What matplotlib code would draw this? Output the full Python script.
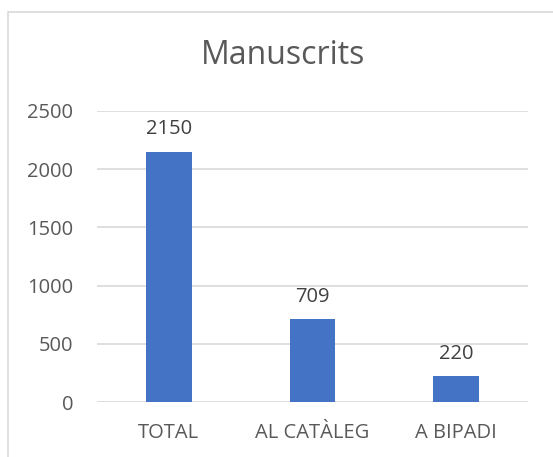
import matplotlib
matplotlib.use("Agg")
import matplotlib.pyplot as plt
from matplotlib.patches import Rectangle

categories = ["TOTAL", "AL CATÀLEG", "A BIPADI"]
values = [2150, 709, 220]
yticks = [0, 500, 1000, 1500, 2000, 2500]

text_color = "#595959"
label_color = "#404040"
bar_color = "#4472c4"
grid_color = "#d9d9d9"

plt.rcParams['font.family'] = ['Open Sans', 'DejaVu Sans']

fig = plt.figure(figsize=(5.53, 4.57), dpi=100)
# chart border (cut off at right and bottom in the original)
fig.patches.append(Rectangle((8 / 553, -0.1), 1.2, 1 - 12 / 457 + 0.1,
                             transform=fig.transFigure, fill=False,
                             edgecolor=grid_color, linewidth=1.2))

ax = fig.add_axes([97 / 553, 1 - 402 / 457, 431 / 553, 291 / 457])
x = range(len(categories))
bars = ax.bar(x, values, width=0.32, color=bar_color, zorder=3)
for b, v in zip(bars, values):
    ax.annotate(str(v), (b.get_x() + b.get_width() / 2, v),
                xytext=(0, 9), textcoords="offset points",
                ha="center", va="bottom", fontsize=14.5, color=label_color)

ax.set_xlim(-0.5, len(categories) - 0.5)
ax.set_ylim(0, 2500)
ax.set_yticks(yticks)
ax.set_xticks(list(x))
ax.set_xticklabels(categories)
ax.tick_params(axis="both", length=0, labelsize=14.5, labelcolor=text_color)
ax.tick_params(axis="y", pad=17)
ax.tick_params(axis="x", pad=15)
ax.yaxis.grid(True, color=grid_color, linewidth=1.2, zorder=0)
for s in ax.spines.values():
    s.set_visible(False)

fig.text(283 / 553, 1 - 55 / 457, "Manuscrits", ha="center", va="center",
         fontsize=23, color=text_color)

fig.savefig("out.png", dpi=100)
